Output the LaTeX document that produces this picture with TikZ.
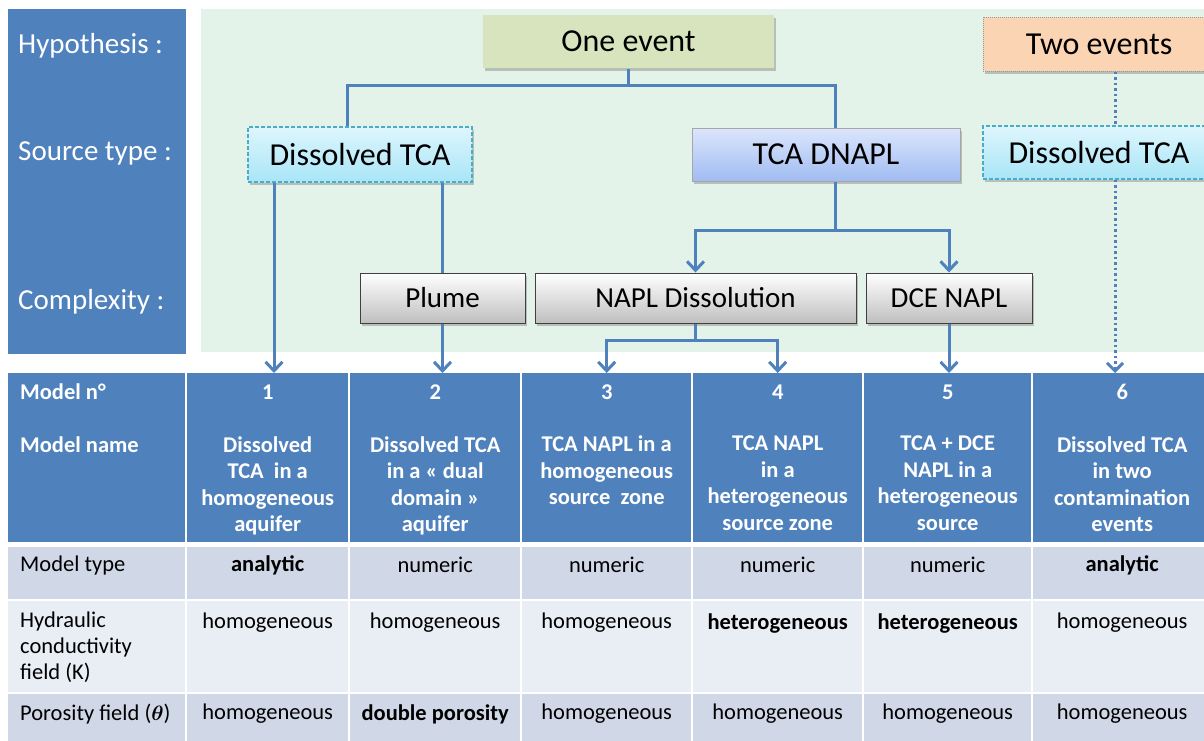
\documentclass[tikz,border=0pt]{standalone}
\usepackage{amsmath}
\usepackage{bm}
\usepackage{fontspec}
\setmainfont{Carlito}
\usetikzlibrary{arrows.meta,positioning,shadows}

\definecolor{hdblue}{RGB}{79,129,189}
\definecolor{rowdark}{RGB}{208,216,232}
\definecolor{rowlight}{RGB}{233,237,244}
\definecolor{greenbg}{RGB}{228,243,233}
\definecolor{olivebox}{RGB}{215,228,189}
\definecolor{peachbox}{RGB}{251,212,180}
\definecolor{cyantop}{RGB}{222,246,253}
\definecolor{cyanbot}{RGB}{168,229,247}
\definecolor{dashcyan}{RGB}{75,172,198}
\definecolor{bluetop}{RGB}{220,230,252}
\definecolor{bluebot}{RGB}{160,188,242}

\begin{document}
\begin{tikzpicture}[x=1pt,y=-1pt,
    box/.style={draw, line width=1pt, inner sep=0pt, minimum height=53pt,
        font=\fontsize{32}{36}\selectfont,
        drop shadow={opacity=0.3, shadow xshift=2pt, shadow yshift=-3pt, fill=black!70}},
    cbox/.style={box, draw=black!75, top color=white, bottom color=black!25,
        minimum height=50pt, font=\fontsize{29}{33}\selectfont},
    sbox/.style={box, line width=1.3pt, dash pattern=on 4pt off 2pt, draw=dashcyan, top color=cyantop, bottom color=cyanbot},
    cell/.style={inner sep=0pt, anchor=north west},
    lbl/.style={anchor=west, inner sep=0pt, text=white, font=\fontsize{29}{33}\selectfont},
    htxt/.style={inner sep=0pt, text=white, font=\fontsize{22.5}{26.5}\selectfont\bfseries, align=center},
    btxt/.style={inner sep=0pt, font=\fontsize{22.5}{26}\selectfont, align=center},
    link/.style={draw=hdblue, line width=3pt},
    arrow/.style={link, -{Straight Barb[length=9pt,width=17pt]}},
    dotlink/.style={draw=hdblue, line width=3pt, dash pattern=on 2.5pt off 3pt}]
    \useasboundingbox (0,0) rectangle (1204,740);
    \fill[white] (0,0) rectangle (1204,740);
    % panels
    \node[cell, fill=hdblue, minimum width=178pt, minimum height=345pt] (side) at (8,9) {};
    \node[cell, fill=greenbg, minimum width=1010pt, minimum height=343pt] (bg) at (201,9) {};
    \node[lbl] (hyp) at (18,46) {Hypothesis :};
    \node[lbl] (src) at (18,153) {Source type :};
    \node[lbl] (cpx) at (18,302) {Complexity :};
    % boxes
    \node[box, draw=none, fill=olivebox, minimum width=291pt] (onevent) at (628.5,41.5) {One event};
    \node[box, densely dotted, draw=black!40, fill=peachbox, minimum width=232pt, minimum height=54pt] (twoevents) at (1099,44) {Two events};
    \node[sbox, minimum width=224pt, minimum height=55pt] (dissolved) at (360,154.5) {Dissolved TCA};
    \node[box, draw=black!35, top color=bluetop, bottom color=bluebot, minimum width=268pt] (dnapl) at (826,154.5) {TCA DNAPL};
    \node[sbox, minimum width=232pt] (dissolvedtwo) at (1099,152.5) {Dissolved TCA};
    \node[cbox, minimum width=165pt] (plume) at (442.5,298) {Plume};
    \node[cbox, minimum width=321pt] (dissolution) at (695.5,298) {NAPL Dissolution};
    \node[cbox, minimum width=166pt] (dcenapl) at (949,298) {DCE NAPL};
    % table
    \node[cell, fill=hdblue, minimum width=177pt, minimum height=169pt] (hd0) at (8,373) {};
    \node[cell, fill=rowdark, minimum width=177pt, minimum height=52pt] (ra0) at (8,547) {};
    \node[cell, fill=rowlight, minimum width=177pt, minimum height=91pt] (rb0) at (8,601) {};
    \node[cell, fill=rowdark, minimum width=177pt, minimum height=50pt] (rc0) at (8,694) {};
    \foreach \i/\xa/\xb in {1/186/349,2/349/521,3/521/692,4/692/863,5/863/1032,6/1032/1212}{
        \node[cell, fill=hdblue, minimum width=\xb-\xa-2, minimum height=169pt] (hd\i) at (\xa+1,373) {};
        \node[cell, fill=rowdark, minimum width=\xb-\xa-2, minimum height=52pt] (ra\i) at (\xa+1,547) {};
        \node[cell, fill=rowlight, minimum width=\xb-\xa-2, minimum height=91pt] (rb\i) at (\xa+1,601) {};
        \node[cell, fill=rowdark, minimum width=\xb-\xa-2, minimum height=50pt] (rc\i) at (\xa+1,694) {};
        \node[htxt] (num\i) at (hd\i.center |- 0,392) {\i};
    }
    % header texts
    \node[htxt, anchor=west] (modn) at (20,392) {Model n°};
    \node[htxt, anchor=west] (modname) at (20,445) {Model name};
    \foreach \i/\txt in {1/{Dissolved\\TCA~ in a\\homogeneous\\aquifer},
        2/{Dissolved TCA\\in a « dual\\domain »\\aquifer},
        3/{TCA NAPL in a\\homogeneous\\source~ zone},
        4/{TCA NAPL\\in a\\heterogeneous\\source zone},
        5/{TCA + DCE\\NAPL in a\\heterogeneous\\source},
        6/{Dissolved TCA\\in two\\contamination\\events}}{
        \node[htxt, anchor=north] (name\i) at (hd\i.center |- 0,436) {\txt};
    }
    % body texts
    \node[btxt, anchor=west] (typel) at (20,565) {Model type};
    \node[btxt, anchor=north west, align=left] (condl) at (20,612) {Hydraulic\\conductivity\\field (K)};
    \node[btxt, anchor=west] (porl) at (20,714) {Porosity field ($\bm{\theta}$)};
    \foreach \i/\txt in {1/\textbf{analytic},2/numeric,3/numeric,4/numeric,5/numeric,6/\textbf{analytic}}{
        \node[btxt] (type\i) at (ra\i.center |- 0,565) {\txt};
    }
    \foreach \i/\txt in {1/homogeneous,2/homogeneous,3/homogeneous,4/\textbf{heterogeneous},5/\textbf{heterogeneous},6/homogeneous}{
        \node[btxt] (cond\i) at (rb\i.center |- 0,623) {\txt};
    }
    \foreach \i/\txt in {1/homogeneous,2/\textbf{double porosity},3/homogeneous,4/homogeneous,5/homogeneous,6/homogeneous}{
        \node[btxt] (por\i) at (rc\i.center |- 0,714) {\txt};
    }
    % connectors
    \coordinate (split1) at (onevent.south |- 0,85);
    \coordinate (split2) at (835,230);
    \coordinate (split3) at (dissolution.south |- 0,340);
    \draw[link] (onevent.south) -- (split1);
    \draw[link] (split1) -| (dissolved.north -| 347,0);
    \draw[link] (split1) -| (dnapl.north -| 835,0);
    \draw[arrow] (dissolved.south -| 274,0) -- (hd1.north -| 274,0);
    \draw[link] (dissolved.south -| plume.north) -- (plume.north);
    \draw[arrow] (plume.south) -- (hd2.north -| plume.south);
    \draw[link] (dnapl.south -| 835,0) -- (split2);
    \draw[arrow] (split2) -| (dissolution.north);
    \draw[arrow] (split2) -| (dcenapl.north);
    \draw[link] (dissolution.south) -- (split3);
    \draw[arrow] (split3) -| (hd3.north);
    \draw[arrow] (split3) -| (hd4.north);
    \draw[arrow] (dcenapl.south) -- (hd5.north -| dcenapl.south);
    \draw[dotlink] (twoevents.south -| 1115,0) -- (dissolvedtwo.north -| 1115,0);
    \draw[dotlink, -{Straight Barb[length=8pt,width=16pt]}] (dissolvedtwo.south -| 1115,0) -- (hd6.north -| 1115,0);
\end{tikzpicture}
\end{document}
